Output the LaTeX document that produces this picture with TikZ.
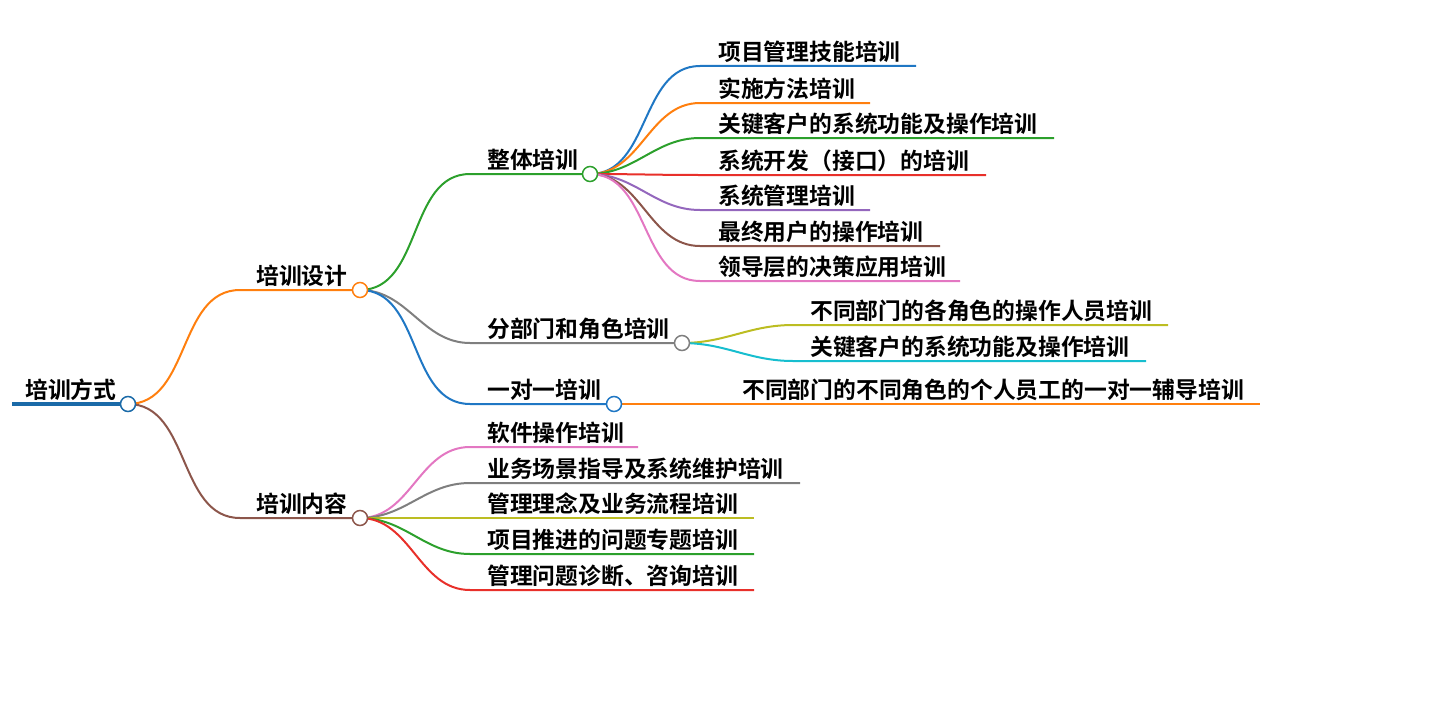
\documentclass[tikz,border=0pt]{standalone}
\usepackage{fontspec}
\newfontfamily\cjk{Noto Sans CJK SC}[BoldFont={* Bold}]
\begin{document}
\begin{tikzpicture}[x=1pt,y=-1pt,
 lbl/.style={anchor=south west,inner sep=0pt,font=\cjk\bfseries\fontsize{22.8}{23}\selectfont},
 edge/.style={line width=2pt},
 knob/.style={circle,draw,fill=white,line width=1.5pt,minimum size=15pt,inner sep=0pt}]
\useasboundingbox (0,0) rectangle (1429,725);
\definecolor{cblue}{HTML}{1F77C4}\definecolor{corange}{HTML}{FF7F0E}
\definecolor{cgreen}{HTML}{2CA02C}\definecolor{cred}{HTML}{E8302A}
\definecolor{cpurple}{HTML}{9467BD}\definecolor{cbrown}{HTML}{8C564B}
\definecolor{cpink}{HTML}{E377C2}\definecolor{cgray}{HTML}{7F7F7F}
\definecolor{colive}{HTML}{BCBD22}\definecolor{ccyan}{HTML}{17BECF}
\definecolor{croot}{HTML}{1A6AA8}
% root
\coordinate (r0) at (12,404);
\node[lbl] (rt) at (25,401) {培训方式};
\draw[croot,line width=4pt] (r0) -- (128,404);
% level 1
\coordinate (a0) at (240,290); \coordinate (b0) at (240,518);
\draw[edge,corange] (128,404) to[out=0,in=180] (a0) -- (360,290);
\draw[edge,cbrown] (128,404) to[out=0,in=180] (b0) -- (360,518);
\node[lbl] (a) at (256,287) {培训设计};
\node[lbl] (b) at (256,515) {培训内容};
% level 2 under a
\draw[edge,cgreen] (360,290) to[out=0,in=180] (470,174) -- (590,174);
\draw[edge,cgray] (360,290) to[out=0,in=180] (470,343) -- (682,343);
\draw[edge,cblue] (360,290) to[out=0,in=180] (470,404) -- (614,404);
\node[lbl] (a1) at (487,171) {整体培训};
\node[lbl] (a2) at (487,340) {分部门和角色培训};
\node[lbl] (a3) at (487,401) {一对一培训};
% leaves of a1
\foreach \y/\e/\c/\t in {66/916/cblue/项目管理技能培训,103/870/corange/实施方法培训,138/1054/cgreen/关键客户的系统功能及操作培训,175/986/cred/系统开发（接口）的培训,210/870/cpurple/系统管理培训,246/940/cbrown/最终用户的操作培训,281/960/cpink/领导层的决策应用培训}{
 \draw[edge,\c] (590,174) to[out=0,in=180] (700,\y) -- (\e,\y);
 \node[lbl] at (718,\y-3) {\t};}
% leaves of a2
\draw[edge,colive] (682,343) to[out=0,in=180] (793,325) -- (1168,325);
\draw[edge,ccyan] (682,343) to[out=0,in=180] (793,361) -- (1146,361);
\node[lbl] (a21) at (810,322) {不同部门的各角色的操作人员培训};
\node[lbl] (a22) at (810,358) {关键客户的系统功能及操作培训};
% leaf of a3
\draw[edge,corange] (614,404) -- (1260,404);
\node[lbl] (a31) at (742,401) {不同部门的不同角色的个人员工的一对一辅导培训};
% leaves of b
\foreach \y/\e/\c/\t in {447/638/cpink/软件操作培训,483/800/cgray/业务场景指导及系统维护培训,518/754/colive/管理理念及业务流程培训,554/754/cgreen/项目推进的问题专题培训,590/754/cred/管理问题诊断、咨询培训}{
 \draw[edge,\c] (360,518) to[out=0,in=180] (470,\y) -- (\e,\y);
 \node[lbl] at (487,\y-3) {\t};}
% knobs
\node[knob,draw=croot] at (128,404) {};
\node[knob,draw=corange] at (360,290) {};
\node[knob,draw=cbrown] at (360,518) {};
\node[knob,draw=cgreen] at (590,174) {};
\node[knob,draw=cgray] at (682,343) {};
\node[knob,draw=cblue] at (614,404) {};
\end{tikzpicture}
\end{document}
